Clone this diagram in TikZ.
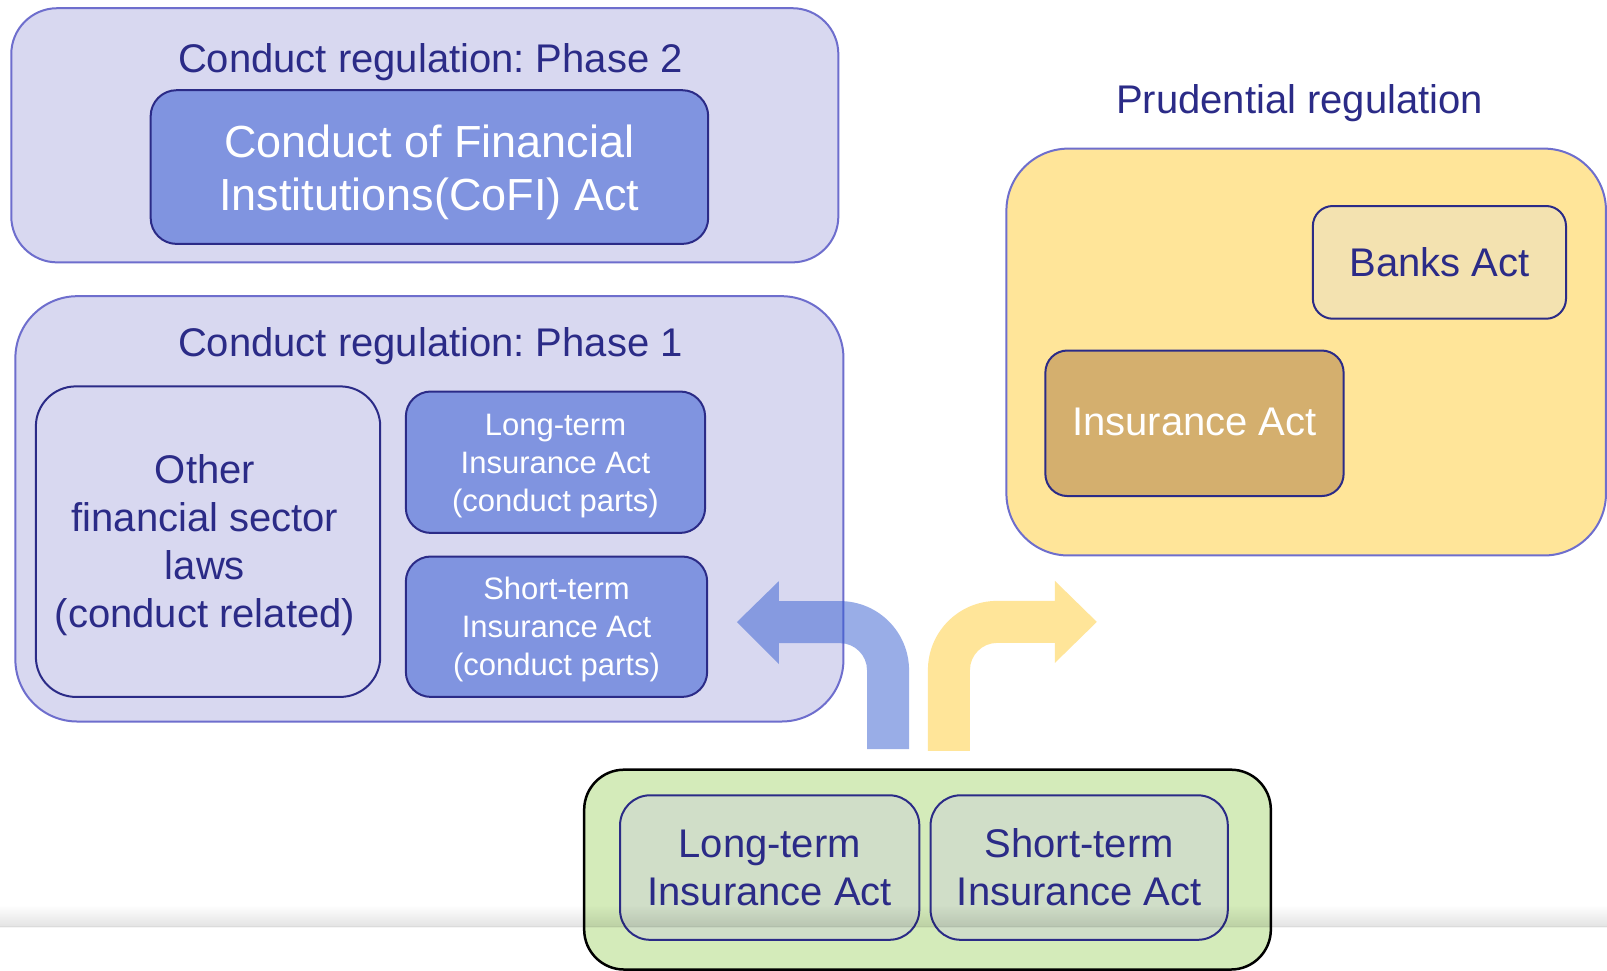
\documentclass[tikz,border=0pt]{standalone}
\usepackage{fontspec}
\setmainfont{Liberation Sans}
\frenchspacing
\usetikzlibrary{fit}
\definecolor{lav}{RGB}{216,216,240}
\definecolor{lavline}{RGB}{110,110,205}
\definecolor{midblue}{RGB}{128,148,224}
\definecolor{navy}{RGB}{43,43,135}
\definecolor{yel}{RGB}{255,229,153}
\definecolor{banksfill}{RGB}{243,226,176}
\definecolor{insfill}{RGB}{212,175,110}
\definecolor{grn}{RGB}{212,235,186}
\definecolor{grngray}{RGB}{208,222,200}
\definecolor{arrblue}{RGB}{53,93,209}
\definecolor{arryel}{RGB}{255,229,153}
\begin{document}
\begin{tikzpicture}[x=1.025pt,y=1.025pt,
  container/.style={draw=lavline, fill=lav, line width=2pt, inner sep=0pt},
  act/.style={draw=navy, line width=2pt, inner sep=0pt},
  txt/.style={inner sep=0pt, align=center},
  title/.style={text=navy, font=\fontsize{40}{48}\selectfont, inner sep=0pt},
  big/.style={font=\fontsize{40}{48}\selectfont},
  small/.style={font=\fontsize{31}{38}\selectfont}]
\useasboundingbox (0,0) rectangle (1568,-947.3);
\fill[white] (0,0) rectangle (1568,-947.3);

% Phase 2
\node[container, rounded corners=46pt, fit={(11,-8)(818,-256)}] (p2) {};
\node[title] (p2t) at (420,-61) {Conduct regulation: Phase 2};
\node[act, fill=midblue, rounded corners=26pt, fit={(147,-88)(691,-238)}] (cofi) {};
\node[txt, text=white, font=\fontsize{45}{53}\selectfont] (cofit) at (419,-168.5)
      {Conduct of Financial\\Institutions(CoFI) Act};

% Phase 1
\node[container, rounded corners=62pt, fit={(15,-289)(823,-704)}] (p1) {};
\node[title] (p1t) at (420,-338) {Conduct regulation: Phase 1};
\node[act, fill=lav, rounded corners=40pt, fit={(35,-377)(371,-680)}] (other) {};
\node[txt, text=navy, big] (othert) at (200,-531.5)
      {Other\\financial sector\\laws\\(conduct related)};
\node[act, fill=midblue, rounded corners=25pt, fit={(396,-382)(688,-520)}] (ltc) {};
\node[txt, text=white, small] (ltct) at (542,-455)
      {Long-term\\Insurance Act\\(conduct parts)};
\node[act, fill=midblue, rounded corners=25pt, fit={(396,-543)(690,-680)}] (stc) {};
\node[txt, text=white, small] (stct) at (543,-614.5)
      {Short-term\\Insurance Act\\(conduct parts)};

% Prudential
\node[title] (prt) at (1268,-101) {Prudential regulation};
\node[container, fill=yel, rounded corners=62pt, fit={(982,-145)(1567,-542)}] (prud) {};
\node[act, fill=banksfill, rounded corners=20pt, fit={(1281,-201)(1528,-311)}] (banks) {};
\node[txt, text=navy, big] (bankst) at (1404.5,-256) {Banks Act};
\node[act, fill=insfill, rounded corners=22pt, fit={(1020,-342)(1311,-484)}] (ins) {};
\node[txt, text=white, big] (inst) at (1165.5,-412) {Insurance Act};

% Bent arrows
\fill[arrblue, fill opacity=0.5]
  (887,-731) -- (887,-654) arc[start angle=0, end angle=90, radius=67.5]
  -- (760,-586.5) -- (760,-567) -- (719,-607) -- (760,-648) -- (760,-627.5)
  -- (819.5,-627.5) arc[start angle=90, end angle=0, radius=26.5]
  -- (846,-731) -- cycle;
\fill[arryel]
  (905.4,-732.7) -- (905.4,-653.8) arc[start angle=180, end angle=90, radius=67.5]
  -- (1029.3,-586.3) -- (1029.3,-566.8) -- (1070.2,-606.8) -- (1029.3,-646.8)
  -- (1029.3,-627.3) -- (972.9,-627.3) arc[start angle=90, end angle=180, radius=26.5]
  -- (946.4,-732.7) -- cycle;

% Bottom group
\node[draw=black, fill=grn, line width=2.5pt, inner sep=0pt, rounded corners=40pt,
      fit={(570,-751)(1240,-946)}] (grp) {};
\node[act, fill=grngray, rounded corners=30pt, fit={(605,-776)(897,-917)}] (lti) {};
\node[txt, text=navy, big] (ltit) at (751,-846.5) {Long-term\\Insurance Act};
\node[act, fill=grngray, rounded corners=30pt, fit={(908,-776)(1198,-917)}] (sti) {};
\node[txt, text=navy, big] (stit) at (1053,-846.5) {Short-term\\Insurance Act};

% faint band of the slide edge
\shade[top color=white, bottom color=black!11, blend mode=multiply]
  (0,-883) rectangle (1568,-904);
\fill[black!4, blend mode=multiply] (0,-904) rectangle (1568,-905.5);
\end{tikzpicture}
\end{document}
